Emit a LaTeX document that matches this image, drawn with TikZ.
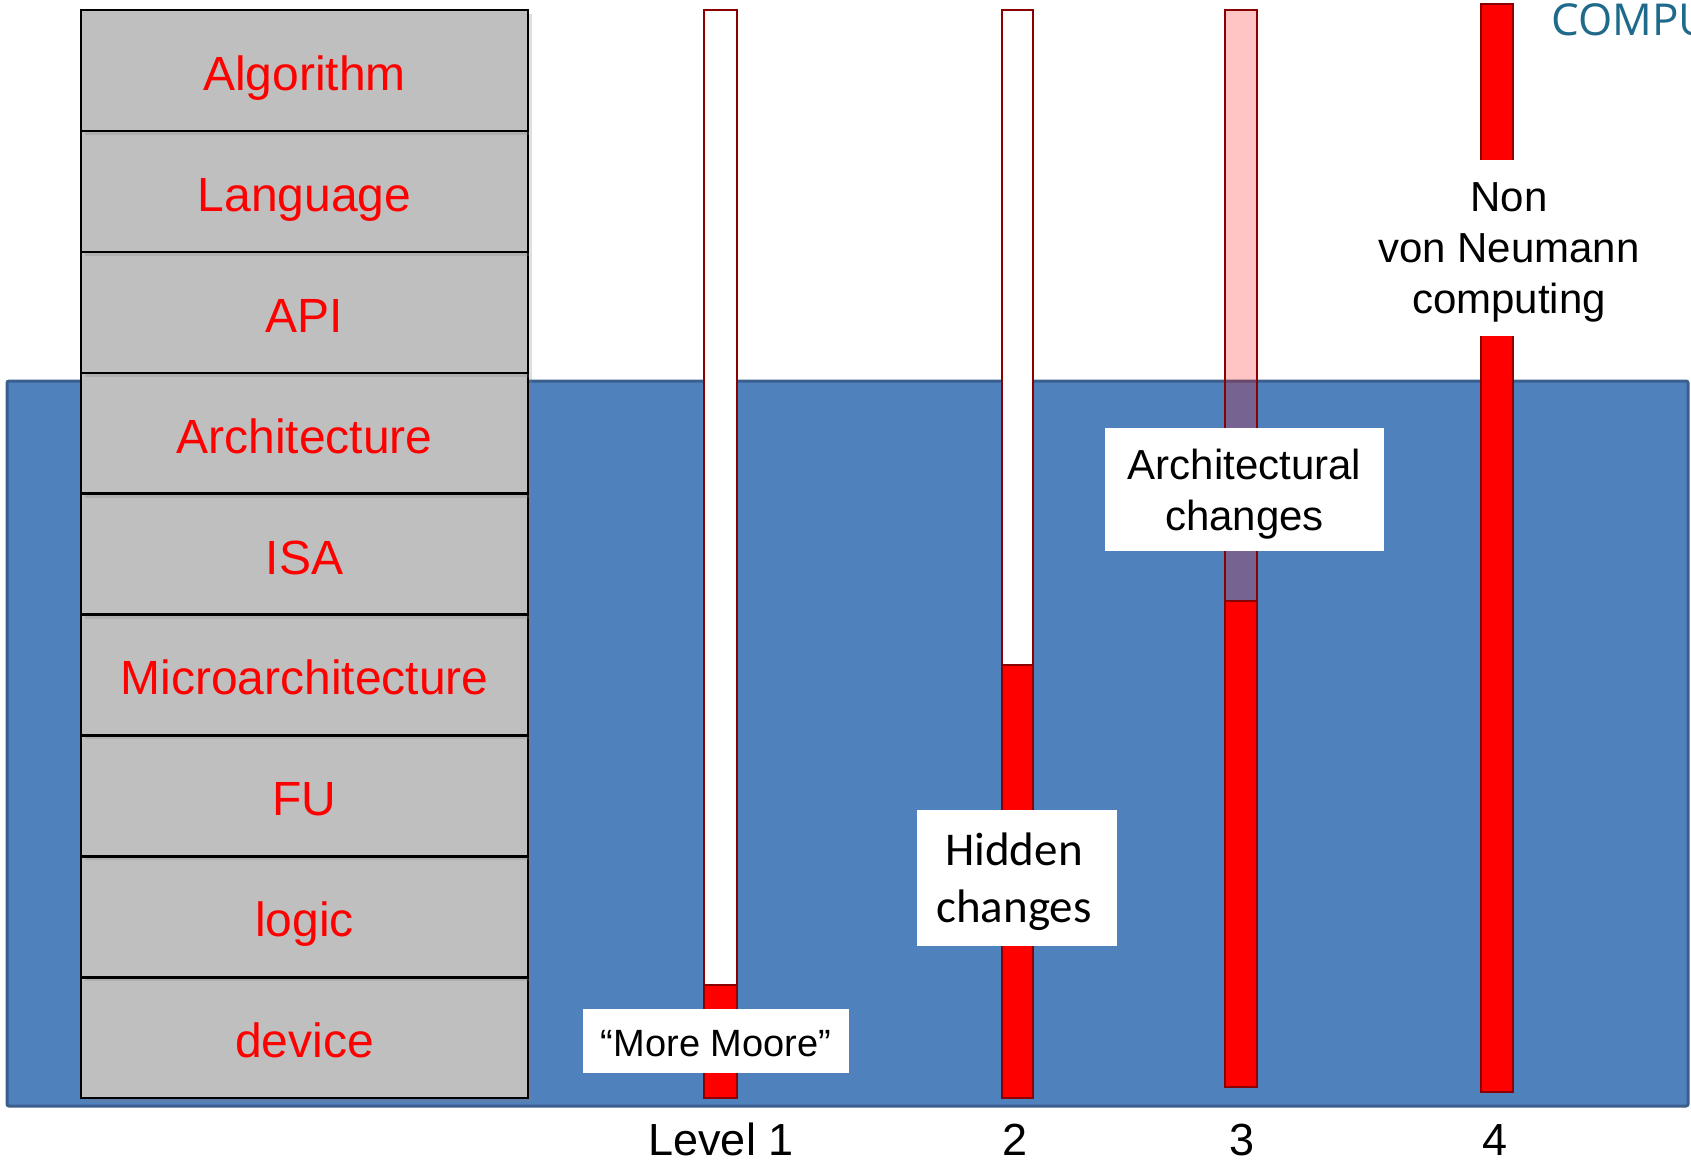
\documentclass[tikz,border=0pt]{standalone}
\usepackage{fontspec}
\setmainfont{Liberation Sans}
\newfontfamily\calibrifont{Carlito}
\newfontfamily\logofont{Open Sans}
\usetikzlibrary{shadows}
\definecolor{blueBg}{HTML}{4F81BD}
\definecolor{blueEdge}{HTML}{3A5F8E}
\definecolor{stackGray}{HTML}{BFBFBF}
\definecolor{barEdge}{HTML}{8B0000}
\definecolor{logoBlue}{HTML}{1F6A8A}
\begin{document}
\begin{tikzpicture}[x=1pt,y=-1pt,
  layerbox/.style={draw=black, line width=2.5pt, fill=stackGray, minimum width=447pt,
    minimum height=121pt, inner sep=0pt, text=red, font=\fontsize{48}{56}\selectfont,
    text height=40pt, text depth=0pt,
    drop shadow={shadow xshift=4pt, shadow yshift=-4pt, opacity=0.25}},
  barwhite/.style={draw=barEdge, line width=2pt, fill=white},
  barred/.style={draw=barEdge, line width=2pt, fill=red},
  barpink/.style={draw=barEdge, line width=2pt, fill=red, fill opacity=0.23},
  notebox/.style={fill=white, inner sep=0pt},
  notetext/.style={inner sep=0pt, align=center, text=black},
  levellabel/.style={anchor=base, font=\fontsize{45}{50}\selectfont, text=black}
]
\useasboundingbox (0,0) rectangle (1691,1163);
% blue background
\draw[draw=blueEdge, line width=3pt, fill=blueBg, rounded corners=2pt] (7,381) rectangle (1688,1106);
% layer stack (bottom to top so shadows fall on lower rows)
\node[layerbox] (device) at (304.5,1037.65) {device};
\node[layerbox] (logic) at (304.5,916.75) {logic};
\node[layerbox] (fu) at (304.5,795.85) {FU};
\node[layerbox] (micro) at (304.5,674.95) {Microarchitecture};
\node[layerbox] (isa) at (304.5,554.05) {ISA};
\node[layerbox] (arch) at (304.5,433.15) {Architecture};
\node[layerbox] (api) at (304.5,312.25) {API};
\node[layerbox] (lang) at (304.5,191.35) {Language};
\node[layerbox] (algo) at (304.5,70.45) {Algorithm};
% bar 1
\draw[barwhite] (704,10) rectangle (737,985);
\draw[barred] (704,985) rectangle (737,1098);
% bar 2
\draw[barwhite] (1002,10) rectangle (1033,665);
\draw[barred] (1002,665) rectangle (1033,1098);
% bar 3
\draw[barpink] (1225,10) rectangle (1257,601);
\draw[barred] (1225,601) rectangle (1257,1087);
% bar 4
\draw[barred] (1481,4) rectangle (1513,1092);
% text boxes
\node[notebox, minimum width=300pt, minimum height=176pt] (nonvnbox) at (1509,248) {};
\node[notetext, font=\fontsize{42}{51}\selectfont] (nonvn) at (1509,252) {Non\\von Neumann\\computing};
\node[notebox, minimum width=266pt, minimum height=64pt] (moorebox) at (716,1041) {};
\node[notetext, font=\fontsize{38}{44}\selectfont] (moore) at (716,1044) {“More Moore”};
\node[notebox, minimum width=200pt, minimum height=136pt] (hiddenbox) at (1017,878) {};
\node[notetext, font=\calibrifont\fontsize{47}{57}\selectfont] (hidden) at (1014,882) {Hidden\\changes};
\node[notebox, minimum width=279pt, minimum height=123pt] (archbox) at (1244.5,489.5) {};
\node[notetext, font=\fontsize{42}{51}\selectfont] (archch) at (1244.5,494) {Architectural\\changes};
% level labels
\node[levellabel] (lv1) at (721,1155) {Level 1};
\node[levellabel] (lv2) at (1015,1155) {2};
\node[levellabel] (lv3) at (1242,1155) {3};
\node[levellabel] (lv4) at (1495,1155) {4};
% logo fragment (cut off at the right edge, as in the reference)
\begin{scope}
\clip (0,0) rectangle (1691,1163);
\node[anchor=north west, inner sep=0pt, text=logoBlue, font=\logofont\fontsize{44}{48}\selectfont]
  (logo) at (1551,3) {COMPU};
\end{scope}
\end{tikzpicture}
\end{document}
